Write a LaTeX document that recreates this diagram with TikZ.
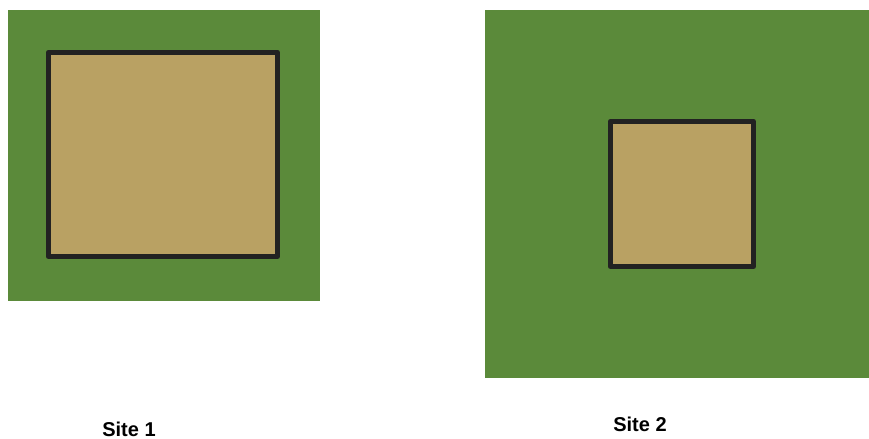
\documentclass[tikz,border=0pt]{standalone}
\usepackage{fontspec}
\setmainfont{Liberation Sans}
\begin{document}
\begin{tikzpicture}[x=0.75pt,y=-0.75pt,
  site/.style={fill=siteGreen,draw=none},
  plot/.style={fill=plotTan,draw=borderDark,line width=3.9pt,line join=round},
  lbl/.style={font=\bfseries\fontsize{15}{18}\selectfont,anchor=base,inner sep=0pt}]
\definecolor{siteGreen}{HTML}{5B8A3A}
\definecolor{plotTan}{HTML}{B9A163}
\definecolor{borderDark}{HTML}{222222}
\useasboundingbox (0,0) rectangle (869,439);
\path[site] (8,10) rectangle (320,301);
\path[plot] (48.5,52.5) rectangle (277.5,256.5);
\path[site] (485,10) rectangle (869,378);
\path[plot] (610.5,121.5) rectangle (753.5,266.5);
\node[lbl] (s1) at (129,436.5) {Site 1};
\node[lbl] (s2) at (640,431) {Site 2};
\end{tikzpicture}
\end{document}
